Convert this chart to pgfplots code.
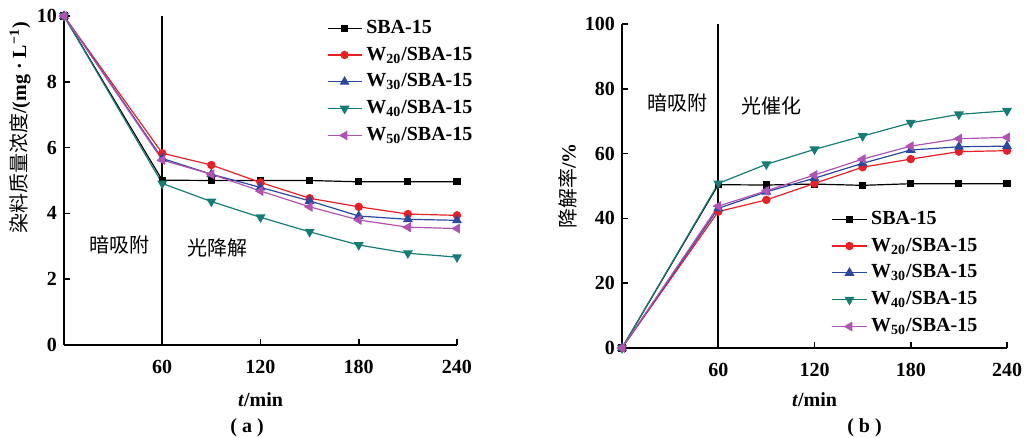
\documentclass[border=0pt]{standalone}
\usepackage{fontspec}
\setmainfont{Liberation Serif}
\newfontfamily\cjk{Noto Sans CJK SC}
\usepackage{pgfplots}
\pgfplotsset{compat=1.18}

\definecolor{cRed}{RGB}{232,32,38}
\definecolor{cBlue}{RGB}{42,72,160}
\definecolor{cTeal}{RGB}{22,124,118}
\definecolor{cPurple}{RGB}{178,82,178}

\pgfplotsset{
  panel/.style={
    scale only axis,
    axis x line=bottom,
    axis y line=left,
    axis line style={-, line width=0.8pt},
    tick align=inside,
    major tick length=3pt,
    tick style={line width=0.8pt, black},
    xmin=0, xmax=240,
    xtick={60,120,180,240},
    tick label style={font=\fontsize{10}{12}\selectfont\bfseries},
    /pgf/number format/assume math mode=true,
    xticklabel style={yshift=-4pt},
    label style={font=\fontsize{10}{12}\selectfont\bfseries},
    legend style={draw=none, fill=none, inner sep=0pt, outer sep=0pt,
      font=\fontsize{10}{12}\selectfont\bfseries, row sep=1.3pt,
      cells={anchor=west}},
    clip=false,
  },
  s0/.style={black, line width=0.6pt, mark=square*, mark size=1.5pt},
  s1/.style={cRed, line width=0.6pt, mark=*, mark size=1.8pt},
  s2/.style={cBlue, line width=0.6pt, mark=triangle*, mark size=2.3pt},
  s3/.style={cTeal, line width=0.6pt, mark=triangle*, mark size=2.3pt, mark options={rotate=180}},
  s4/.style={cPurple, line width=0.6pt, mark=triangle*, mark size=2.3pt, mark options={rotate=90}},
}

\begin{document}
\begin{tikzpicture}
\path[use as bounding box] (-32pt,-46.5pt) rectangle (485.5pt,172.5pt);

% (a) concentration
\begin{axis}[
  panel,
  at={(0pt,0pt)}, anchor=south west,
  width=196.5pt, height=164.5pt,
  ymin=0, ymax=10, ytick={0,2,4,6,8,10},
  xlabel={\textit{t}/min},
  xlabel style={at={(axis description cs:0.5,-0.167)}, anchor=center},
  ylabel={{\cjk\mdseries 染料质量浓度}/(mg · L\textsuperscript{−1})},
  ylabel style={at={(axis description cs:-0.112,0.66)}, anchor=center},
  legend style={at={(axis description cs:0.669,1.0)}, anchor=north west},
]
\draw[line width=0.8pt] (axis cs:60,0) -- (axis cs:60,10);
\addplot[s0] coordinates {(0,10) (60,5.01) (90,5.0) (120,5.0) (150,5.0) (180,4.96) (210,4.96) (240,4.96)};
\addplot[s1] coordinates {(0,10) (60,5.83) (90,5.47) (120,4.94) (150,4.46) (180,4.20) (210,3.98) (240,3.94)};
\addplot[s2] coordinates {(0,10) (60,5.67) (90,5.19) (120,4.79) (150,4.38) (180,3.92) (210,3.82) (240,3.79)};
\addplot[s3] coordinates {(0,10) (60,4.91) (90,4.36) (120,3.88) (150,3.44) (180,3.04) (210,2.79) (240,2.67)};
\addplot[s4] coordinates {(0,10) (60,5.62) (90,5.19) (120,4.68) (150,4.20) (180,3.80) (210,3.58) (240,3.54)};
\legend{SBA-15, W\textsubscript{20}/SBA-15, W\textsubscript{30}/SBA-15, W\textsubscript{40}/SBA-15, W\textsubscript{50}/SBA-15}
\node[font=\fontsize{10}{12}\selectfont\cjk] at (axis cs:34,3.04) {暗吸附};
\node[font=\fontsize{10}{12}\selectfont\cjk] at (axis cs:94,2.95) {光降解};
\node[font=\fontsize{10}{12}\selectfont\bfseries] at (axis description cs:0.466,-0.252) {( a )};
\end{axis}

% (b) degradation rate
\begin{axis}[
  panel,
  at={(279pt,-1.5pt)}, anchor=south west,
  width=192.5pt, height=162pt,
  ymin=0, ymax=100, ytick={0,20,40,60,80,100},
  xlabel={\textit{t}/min},
  xlabel style={at={(axis description cs:0.5,-0.16)}, anchor=center},
  ylabel={{\cjk\mdseries 降解率}/\%},
  ylabel style={at={(axis description cs:-0.14,0.5)}, anchor=center},
  legend style={at={(axis description cs:0.545,0.435)}, anchor=north west},
]
\draw[line width=0.8pt] (axis cs:60,0) -- (axis cs:60,100);
\addplot[s0] coordinates {(0,0) (60,50.4) (90,50.3) (120,50.6) (150,50.2) (180,50.7) (210,50.7) (240,50.7)};
\addplot[s1] coordinates {(0,0) (60,42.1) (90,45.7) (120,50.8) (150,55.8) (180,58.3) (210,60.6) (240,60.9)};
\addplot[s2] coordinates {(0,0) (60,43.1) (90,48.2) (120,52.4) (150,57.0) (180,61.1) (210,62.1) (240,62.3)};
\addplot[s3] coordinates {(0,0) (60,50.8) (90,56.7) (120,61.3) (150,65.4) (180,69.5) (210,72.1) (240,73.2)};
\addplot[s4] coordinates {(0,0) (60,43.8) (90,48.5) (120,53.4) (150,58.3) (180,62.3) (210,64.6) (240,65.0)};
\legend{SBA-15, W\textsubscript{20}/SBA-15, W\textsubscript{30}/SBA-15, W\textsubscript{40}/SBA-15, W\textsubscript{50}/SBA-15}
\node[font=\fontsize{10}{12}\selectfont\cjk] at (axis cs:34.3,75.6) {暗吸附};
\node[font=\fontsize{10}{12}\selectfont\cjk] at (axis cs:92.9,74.7) {光催化};
\node[font=\fontsize{10}{12}\selectfont\bfseries] at (axis description cs:0.63,-0.247) {( b )};
\end{axis}
\end{tikzpicture}
\end{document}
